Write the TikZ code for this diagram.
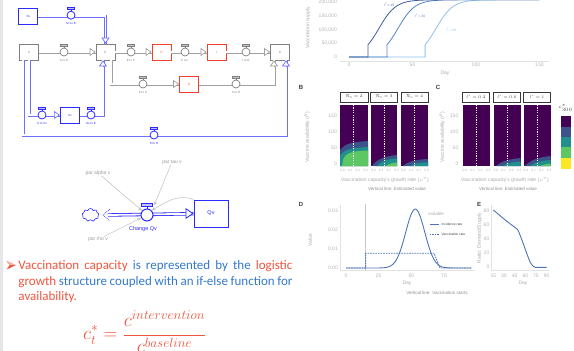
\RequirePackage{fix-cm}
\documentclass[tikz,border=0pt]{standalone}
\usepackage{fontspec}
\setmainfont{Carlito}
\newfontfamily\plotfont{Liberation Sans}
\usetikzlibrary{arrows.meta,shapes.symbols,calc}
\definecolor{gstk}{HTML}{7F7F7F}
\definecolor{gpip}{HTML}{A0A0A0}
\definecolor{bstk}{HTML}{2B2BFF}
\definecolor{bpip}{HTML}{6E6EFF}
\definecolor{rstk}{HTML}{F2402A}
\definecolor{tred}{HTML}{EE553D}
\definecolor{tblue}{HTML}{3479CC}
\definecolor{infc}{HTML}{C6C6C6}
\definecolor{parc}{HTML}{999999}
\definecolor{tickc}{HTML}{B3B3B3}
\definecolor{labc}{HTML}{AAAAAA}
\definecolor{notec}{HTML}{8E8E8E}
\definecolor{panc}{HTML}{3A3A3A}
\definecolor{axc}{HTML}{E2E2E2}
\definecolor{leftbar}{HTML}{E6E6E6}
\definecolor{vA}{HTML}{440154}
\definecolor{vB}{HTML}{3B528B}
\definecolor{vC}{HTML}{21908C}
\definecolor{vD}{HTML}{5DC863}
\definecolor{vE}{HTML}{FDE725}
\definecolor{cA1}{HTML}{3E5C9C}
\definecolor{cA2}{HTML}{5484C8}
\definecolor{cA3}{HTML}{8EC2EC}
\definecolor{cD}{HTML}{4E74B5}
\tikzset{
  stockbox/.style={rectangle, draw, fill=white, inner sep=0, minimum width=19pt, minimum height=16pt, line width=0.7pt, font=\plotfont\fontsize{3}{3}\selectfont},
  gstock/.style={stockbox, draw=gstk, text=gstk},
  rstock/.style={stockbox, draw=rstk, text=rstk},
  bstock/.style={stockbox, draw=bstk, text=bstk, line width=1pt},
  pipebase/.style={line width=0.75pt, double=white, double distance=1.5pt},
  gpipe/.style={pipebase, draw=gpip},
  bpipe/.style={pipebase, draw=bpip},
  gtip/.style={draw=gpip, line width=0.7pt, -{Triangle[length=6pt, width=8pt, fill=white]}},
  btip/.style={draw=bpip, line width=0.7pt, -{Triangle[length=6pt, width=8pt, fill=white]}},
  gvalve/.style={circle, draw=gstk, fill=white, line width=0.7pt, minimum size=8pt, inner sep=0},
  bvalve/.style={circle, draw=bstk, fill=white, line width=0.8pt, minimum size=8pt, inner sep=0},
  vlab/.style={font=\plotfont\fontsize{3}{3}\selectfont, inner sep=0},
  parlab/.style={font=\plotfont\fontsize{5}{5}\selectfont, text=parc, inner sep=0.5pt},
  infarr/.style={draw=infc, line width=0.6pt, -{Stealth[length=4pt, width=3.5pt]}},
  tick/.style={font=\plotfont\fontsize{5}{5}\selectfont, text=tickc, inner sep=0},
  tinytick/.style={font=\plotfont\fontsize{3.3}{3.3}\selectfont, text=tickc, inner sep=0},
  axlab/.style={font=\plotfont\fontsize{5}{5}\selectfont, text=labc, inner sep=0},
  note/.style={font=\plotfont\fontsize{4.5}{4.5}\selectfont, text=notec, inner sep=0},
  panlab/.style={font=\plotfont\bfseries\fontsize{6}{6}\selectfont, text=panc, inner sep=0},
  strip/.style={rectangle, draw=panc, fill=white, line width=0.6pt, inner sep=0, minimum height=10pt, font=\plotfont\fontsize{4}{4}\selectfont, text=panc},
  dashw/.style={draw=white, line width=0.4pt, dash pattern=on 1.2pt off 1.2pt},
}
\begin{document}
\begin{tikzpicture}[x=1pt, y=-1pt]
\useasboundingbox (0,0) rectangle (574,351);
\fill[leftbar] (0,0) rectangle (2.5,351);

% ---------- stock and flow diagram ----------
\node[bstock] (Sv) at (28.3,16) {Sv};
\node[gstock] (S) at (29,52) {S};
\node[gstock] (E) at (105.5,52) {E};
\node[rstock] (P) at (161.5,52) {P};
\node[rstock] (I) at (216.5,52) {I};
\node[gstock] (R) at (280,52) {R};
\node[rstock] (A) at (189,84) {A};
\node[bstock] (Sv2) at (70,115) {Sv};
\coordinate (cSR) at (154,135);

\draw[gpipe] (S) -- (E);
\draw[gpipe] (E) -- (P);
\draw[gpipe] (P) -- (I);
\draw[gpipe] (I) -- (R);
\draw[gpipe] ([xshift=5.5pt]E.south) |- (A.west);
\draw[gpipe] (A.east) -| ([xshift=-6pt]R.south);
\draw[bpipe] (Sv.east) -| (E.north);
\draw[bpipe] (S.south) |- (Sv2.west);
\draw[bpipe] (Sv2.east) -| ([xshift=-2.5pt]E.south);
\draw[bpipe] ([xshift=-6pt]S.south) |- (cSR) -| ([xshift=6pt]R.south);
% arrow heads
\draw[gtip] ([xshift=-6pt]E.west) -- (E.west);
\draw[gtip] ([xshift=-6pt]P.west) -- (P.west);
\draw[gtip] ([xshift=-6pt]I.west) -- (I.west);
\draw[gtip] ([xshift=-6pt]R.west) -- (R.west);
\draw[gtip] ([xshift=-6pt]A.west) -- (A.west);
\draw[gtip] ([xshift=-6pt,yshift=-6pt]R.south) -- ([xshift=-6pt]R.south);
\draw[btip] ([yshift=6pt]E.north) -- (E.north);
\draw[btip] ([xshift=-6pt]Sv2.west) -- (Sv2.west);
\draw[btip] ([xshift=-2.5pt,yshift=-6pt]E.south) -- ([xshift=-2.5pt]E.south);
\draw[btip] ([xshift=6pt,yshift=-6pt]R.south) -- ([xshift=6pt]R.south);

\node[gvalve] (vSE) at (64,52) {};
\node[gvalve] (vEP) at (131,52) {};
\node[gvalve] (vPI) at (185,52) {};
\node[gvalve] (vIR) at (246,52) {};
\node[gvalve] (vEA) at (143,84) {};
\node[gvalve] (vAR) at (236,84) {};
\node[bvalve] (vSvE) at (71,15.2) {};
\node[bvalve] (vSSv) at (42,115) {};
\node[bvalve] (vSv2E) at (91,115) {};
\node[bvalve] (vSR) at (cSR) {};
\foreach \v in {vSE,vEP,vPI,vIR,vEA,vAR} {
  \draw[gstk, line width=0.5pt] (\v.north) -- ++(0,-1.6);
  \draw[gstk, fill=gstk!45, line width=0.5pt] ($(\v.north)+(-3.3,-1.6)$) rectangle ($(\v.north)+(3.3,-3.4)$);
}
\foreach \v in {vSvE,vSSv,vSv2E,vSR} {
  \draw[bstk, line width=0.5pt] (\v.north) -- ++(0,-1.6);
  \draw[bstk, fill=bpip!45, line width=0.5pt] ($(\v.north)+(-3.3,-1.6)$) rectangle ($(\v.north)+(3.3,-3.4)$);
}
\node[vlab, text=gstk] (lSE) at (64,60.5) {S to E};
\node[vlab, text=gstk] (lEP) at (131,60.5) {E to P};
\node[vlab, text=gstk] (lPI) at (185,60.5) {P to I};
\node[vlab, text=gstk] (lIR) at (246,60.5) {I to R};
\node[vlab, text=gstk] (lEA) at (143,92.5) {E to A};
\node[vlab, text=gstk] (lAR) at (236,92.5) {A to R};
\node[vlab, text=bstk] (lSvE) at (71,23.5) {Sv to E};
\node[vlab, text=bstk] (lSSv) at (42,123.5) {S to Sv};
\node[vlab, text=bstk] (lSv2E) at (91,123.5) {Sv to E};
\node[vlab, text=bstk] (lSR) at (154,143.5) {S to R};

% ---------- vaccination capacity structure ----------
\node[bstock, minimum width=34pt, minimum height=27pt, font=\plotfont\fontsize{5.5}{5.5}\selectfont] (Qv) at (211,213.5) {Qv};
\node[cloud, cloud puffs=9, draw=bstk, line width=0.6pt, minimum width=17pt, minimum height=13pt, inner sep=0] (cld) at (90.5,215) {};
\coordinate (src) at (108,215);
\draw[bstk, line width=0.5pt, dash pattern=on 1pt off 0.8pt] ($(src)+(2,-6)$) -- ($(src)+(-5,0)$) -- ($(src)+(2,6)$);
\draw[pipebase, draw=bstk, line width=0.8pt, double distance=1.8pt] (src) -- (Qv);
\draw[draw=bstk, line width=0.8pt, -{Triangle[length=8pt, width=11pt, fill=white]}] ([xshift=-8pt]Qv.west) -- (Qv.west);
\node[bvalve, minimum size=12pt, line width=1pt] (vQ) at (147,215) {};
\draw[bstk, line width=0.7pt] (vQ.north) -- ++(0,-2);
\draw[bstk, fill=bpip!40, line width=0.7pt] ($(vQ.north)+(-5.5,-2)$) rectangle ($(vQ.north)+(5.5,-5)$);
\node[font=\plotfont\fontsize{5.5}{5.5}\selectfont, text=bstk, inner sep=0] (chq) at (143,229.5) {Change Qv};
\node[parlab] (pa) at (98,173) {par alpha v};
\node[parlab] (pt) at (172,162) {par tau v};
\node[parlab] (pr) at (98,239.5) {par rho v};
\draw[infarr] (pa) -- (vQ);
\draw[infarr] (pt) -- ([xshift=7pt,yshift=3pt]vQ.north);
\draw[infarr] (pr) -- (vQ);
\draw[infarr] (Qv.north west) to[out=160, in=30] (vQ.north east);

% ---------- text ----------
\fill[tred] (15.7,265.2) -- (6.7,261) -- (9.6,265.2) -- (6.7,269.5) -- cycle;
\fill[tred!45] (15.7,265.2) -- (6.7,261) -- (9.6,265.2) -- cycle;
\node[anchor=base west, inner sep=0, text=tred, font=\fontsize{13}{15.3}\selectfont] (para) at (18.3,269.7) {\parbox[t]{274pt}{Vaccination capacity \textcolor{tblue}{is represented by the} logistic\linebreak growth \textcolor{tblue}{structure coupled with an if-else function for}\linebreak availability.}};
\node[anchor=base west, inner sep=0, text=tred] (frm) at (83,339.7) {\fontsize{19}{21}\selectfont$\displaystyle c_t^* = \frac{c^{intervention}}{c^{baseline}}$};

% ---------- panel A ----------
\draw[axc, line width=0.5pt] (340,61) -- (549,61);
\draw[cA3, line width=0.8pt] (349,57) -- (425.1,57) -- plot[domain=60:150, samples=60] ({349+1.269*\x},{57-57.2/(1+exp(-0.15*(\x-68.6)))});
\draw[cA2, line width=0.8pt] (349,57) -- (387.1,57) -- plot[domain=30:150, samples=70] ({349+1.269*\x},{57-57.2/(1+exp(-0.15*(\x-38.6)))});
\draw[cA1, line width=0.8pt] (349,57) -- (368,57) -- plot[domain=15:150, samples=80] ({349+1.269*\x},{57-57.2/(1+exp(-0.15*(\x-23.6)))});
\node[tick, anchor=east] (ya1) at (337,2.5) {200,000};
\node[tick, anchor=east] (ya2) at (337,16) {150,000};
\node[tick, anchor=east] (ya3) at (337,29.7) {100,000};
\node[tick, anchor=east] (ya4) at (337,43.3) {50,000};
\node[tick, anchor=east] (ya5) at (337,57) {0};
\node[tick] (xa1) at (349,64.5) {0};
\node[tick] (xa2) at (412.5,64.5) {50};
\node[tick] (xa3) at (475.9,64.5) {100};
\node[tick] (xa4) at (539.4,64.5) {150};
\node[axlab] (dayA) at (445,73.5) {Day};
\node[axlab, rotate=90] (ylA) at (308,28) {Vaccination supply};
\node[font=\plotfont\fontsize{3.3}{3.3}\selectfont, text=cA1, inner sep=0] (r15) at (389,5) {r\textsuperscript{v} = 15};
\node[font=\plotfont\fontsize{3.3}{3.3}\selectfont, text=cA2, inner sep=0] (r30) at (420,16) {r\textsuperscript{v} = 30};
\node[font=\plotfont\fontsize{3.3}{3.3}\selectfont, text=cA3, inner sep=0] (r60) at (451,30) {r\textsuperscript{v} = 60};

% ---------- panels B and C ----------
\node[panlab] (labB) at (301,87.5) {B};
\node[panlab] (labC) at (438,87.5) {C};
\node[strip, minimum width=28pt] (sB1) at (354,97) {$\mathcal{R}_0 = 2$};
\node[strip, minimum width=27pt] (sB2) at (384,97) {$\mathcal{R}_0 = 3$};
\node[strip, minimum width=27pt] (sB3) at (414.5,97) {$\mathcal{R}_0 = 4$};
\node[strip, minimum width=27pt] (sC1) at (476,97) {$l^v = 0.2$};
\node[strip, minimum width=27pt] (sC2) at (507,97) {$l^v = 0.6$};
\node[strip, minimum width=27pt] (sC3) at (537,97) {$l^v = 1$};
\fill[vA] (340,105) rectangle (368,166);
\fill[vA] (371,105) rectangle (397,166);
\fill[vA] (401,105) rectangle (428,166);
\fill[vA] (462.5,105) rectangle (489.5,166);
\fill[vA] (493.5,105) rectangle (520.5,166);
\fill[vA] (523.5,105) rectangle (550.5,166);
\begin{scope}
\clip (340,105) rectangle (368,166);
\fill[vB] (340,166) -- (340,150) .. controls (344,144) and (352,142) .. (368,141) -- (368,166) -- cycle;
\fill[vC] (340,166) -- (340,156) .. controls (344,149) and (352,148) .. (368,147) -- (368,166) -- cycle;
\fill[vD] (342,166) -- (343,160) .. controls (345,153) and (352,151) .. (368,150.5) -- (368,166) -- cycle;
\end{scope}
\begin{scope}
\clip (371,105) rectangle (397,166);
\fill[vB] (372,166) .. controls (376,160) and (384,156) .. (397,155) -- (397,166) -- cycle;
\fill[vC] (377,166) .. controls (381,161) and (388,159) .. (397,158.5) -- (397,166) -- cycle;
\fill[vD] (386,166) .. controls (389,163.5) and (393,163) .. (397,162.5) -- (397,166) -- cycle;
\end{scope}
\begin{scope}
\clip (401,105) rectangle (428,166);
\fill[vB] (403,166) .. controls (407,162) and (415,159.5) .. (428,159) -- (428,166) -- cycle;
\fill[vC] (410,166) .. controls (414,163.5) and (420,162.5) .. (428,162.3) -- (428,166) -- cycle;
\end{scope}
\begin{scope}
\clip (493.5,105) rectangle (520.5,166);
\fill[vB] (496,166) .. controls (500,162) and (508,159) .. (521,158) -- (521,166) -- cycle;
\fill[vC] (503,166) .. controls (507,163) and (513,162) .. (521,161.5) -- (521,166) -- cycle;
\end{scope}
\begin{scope}
\clip (523.5,105) rectangle (550.5,166);
\fill[vB] (525,166) .. controls (529,161) and (538,157) .. (551,156) -- (551,166) -- cycle;
\fill[vC] (530,166) .. controls (535,162) and (542,160.5) .. (551,160) -- (551,166) -- cycle;
\fill[vD] (540,166) .. controls (543,164.5) and (547,164) .. (551,163.5) -- (551,166) -- cycle;
\end{scope}
\foreach \xx in {353.5,384.5,414.5,475.7,506.7,536.7}
  \draw[dashw] (\xx,105) -- (\xx,166);
\foreach \L [count=\p] in {340,371,401,462.5,493.5,523.5}
  \foreach \t [count=\k] in {0.0,0.1,0.2,0.3}
    \node[tinytick] (xt\p\k) at ({\L+2.5+7.7*(\k-1)},170) {\t};
\foreach \v/\yy [count=\i] in {150/116,100/131.7,50/147.5,0/164} {
  \node[tick, anchor=east] (yb\i) at (337,\yy) {\v};
  \node[tick, anchor=east] (yc\i) at (458.5,\yy) {\v};
}
\node[axlab, rotate=90] (ylB) at (307,137) {Vaccine availability (r\textsuperscript{v})};
\node[axlab, rotate=90] (ylC) at (442,137) {Vaccine availability (r\textsuperscript{v})};
\node[axlab] (xlB) at (385,179.5) {Vaccination capacity's growth rate ($\rho^v$)};
\node[axlab] (xlC) at (505,179.5) {Vaccination capacity's growth rate ($\rho^v$)};
\node[note] (nB) at (397,189) {Vertical line: Estimated value};
\node[note] (nC) at (508,189) {Vertical line: Estimated value};
\node[font=\plotfont\fontsize{5}{5}\selectfont, text=panc, inner sep=0] (legt) at (565.5,108) {$c^*_{300}$};
\fill[vA] (560.5,116) rectangle (571,126.5);
\fill[vB] (560.5,126.5) rectangle (571,137);
\fill[vC] (560.5,137) rectangle (571,147);
\fill[vD] (560.5,147) rectangle (571,158);
\fill[vE] (560.5,158) rectangle (571,168.5);

% ---------- panel D ----------
\node[panlab] (labD) at (301,204.5) {D};
\draw[axc, line width=0.5pt] (340.5,205) -- (340.5,270.5) -- (475,270.5);
\draw[infc, line width=0.5pt] (365.6,204) -- (365.6,270.5);
\draw[cD, line width=0.9pt] plot[domain=0:96, samples=120] ({346+1.307*\x},{268-58.9*exp(-((\x-53)*(\x-53))/(2*7.3*7.3))});
\draw[cD, line width=0.8pt, dash pattern=on 1.6pt off 1pt] (346,268) -- (365.6,268) -- (365.6,253.2) -- (434,253.2) -- (440,268) -- (471.5,268);
\node[tick, anchor=east] (yd1) at (338,211) {0.03};
\node[tick, anchor=east] (yd2) at (338,230) {0.02};
\node[tick, anchor=east] (yd3) at (338,249) {0.01};
\node[tick, anchor=east] (yd4) at (338,268) {0.00};
\node[tick] (xd1) at (346,275.5) {0};
\node[tick] (xd2) at (378.7,275.5) {25};
\node[tick] (xd3) at (411.4,275.5) {50};
\node[tick] (xd4) at (444,275.5) {75};
\node[axlab] (dayD) at (407,283.5) {Day};
\node[axlab, rotate=90] (ylD) at (310,240) {Value};
\node[note] (nD) at (437,292.5) {Vertical line: Vaccination starts};
\node[font=\plotfont\fontsize{4.5}{4.5}\selectfont, text=labc, inner sep=0, anchor=west] (legv) at (428,214) {variable};
\coordinate (lg1a) at (429.5,224);
\coordinate (lg1b) at (438.5,224);
\coordinate (lg2a) at (429.5,234);
\coordinate (lg2b) at (438.5,234);
\draw[cD, line width=0.9pt] (lg1a) -- (lg1b);
\draw[cD, line width=0.8pt, dash pattern=on 1.6pt off 1pt] (lg2a) -- (lg2b);
\node[font=\plotfont\fontsize{3.3}{3.3}\selectfont, text=panc, inner sep=0, anchor=west] (leg1) at (441.5,224) {Incidence rate};
\node[font=\plotfont\fontsize{3.3}{3.3}\selectfont, text=panc, inner sep=0, anchor=west] (leg2) at (441.5,234) {Vaccination rate};

% ---------- panel E ----------
\node[panlab] (labE) at (479,204.5) {E};
\draw[axc, line width=0.5pt] (491,205) -- (491,270.5) -- (549,270.5);
\draw[cD, line width=0.9pt] plot[smooth, tension=0.5] coordinates {(493.3,209.9) (504,219) (511.1,224.6) (517.5,229.5) (520.3,235.8) (523.2,243.5) (526.7,253.3) (530.3,262.4) (533.1,266.2) (535.3,267.3) (546.6,267.3)};
\node[tick, anchor=east] (ye1) at (489.5,210.7) {80};
\node[tick, anchor=east] (ye2) at (489.5,224.8) {60};
\node[tick, anchor=east] (ye3) at (489.5,238.9) {40};
\node[tick, anchor=east] (ye4) at (489.5,253) {20};
\node[tick, anchor=east] (ye5) at (489.5,267.2) {0};
\foreach \d [count=\i] in {15,30,45,60,75,90}
  \node[tick] (xe\i) at ({493.3+(\d-15)*0.711},275.5) {\d};
\node[axlab] (dayE) at (523,283.5) {Day};
\node[axlab, rotate=90] (ylE) at (479.5,238) {Ratio: Demand/Supply};
\end{tikzpicture}
\end{document}
